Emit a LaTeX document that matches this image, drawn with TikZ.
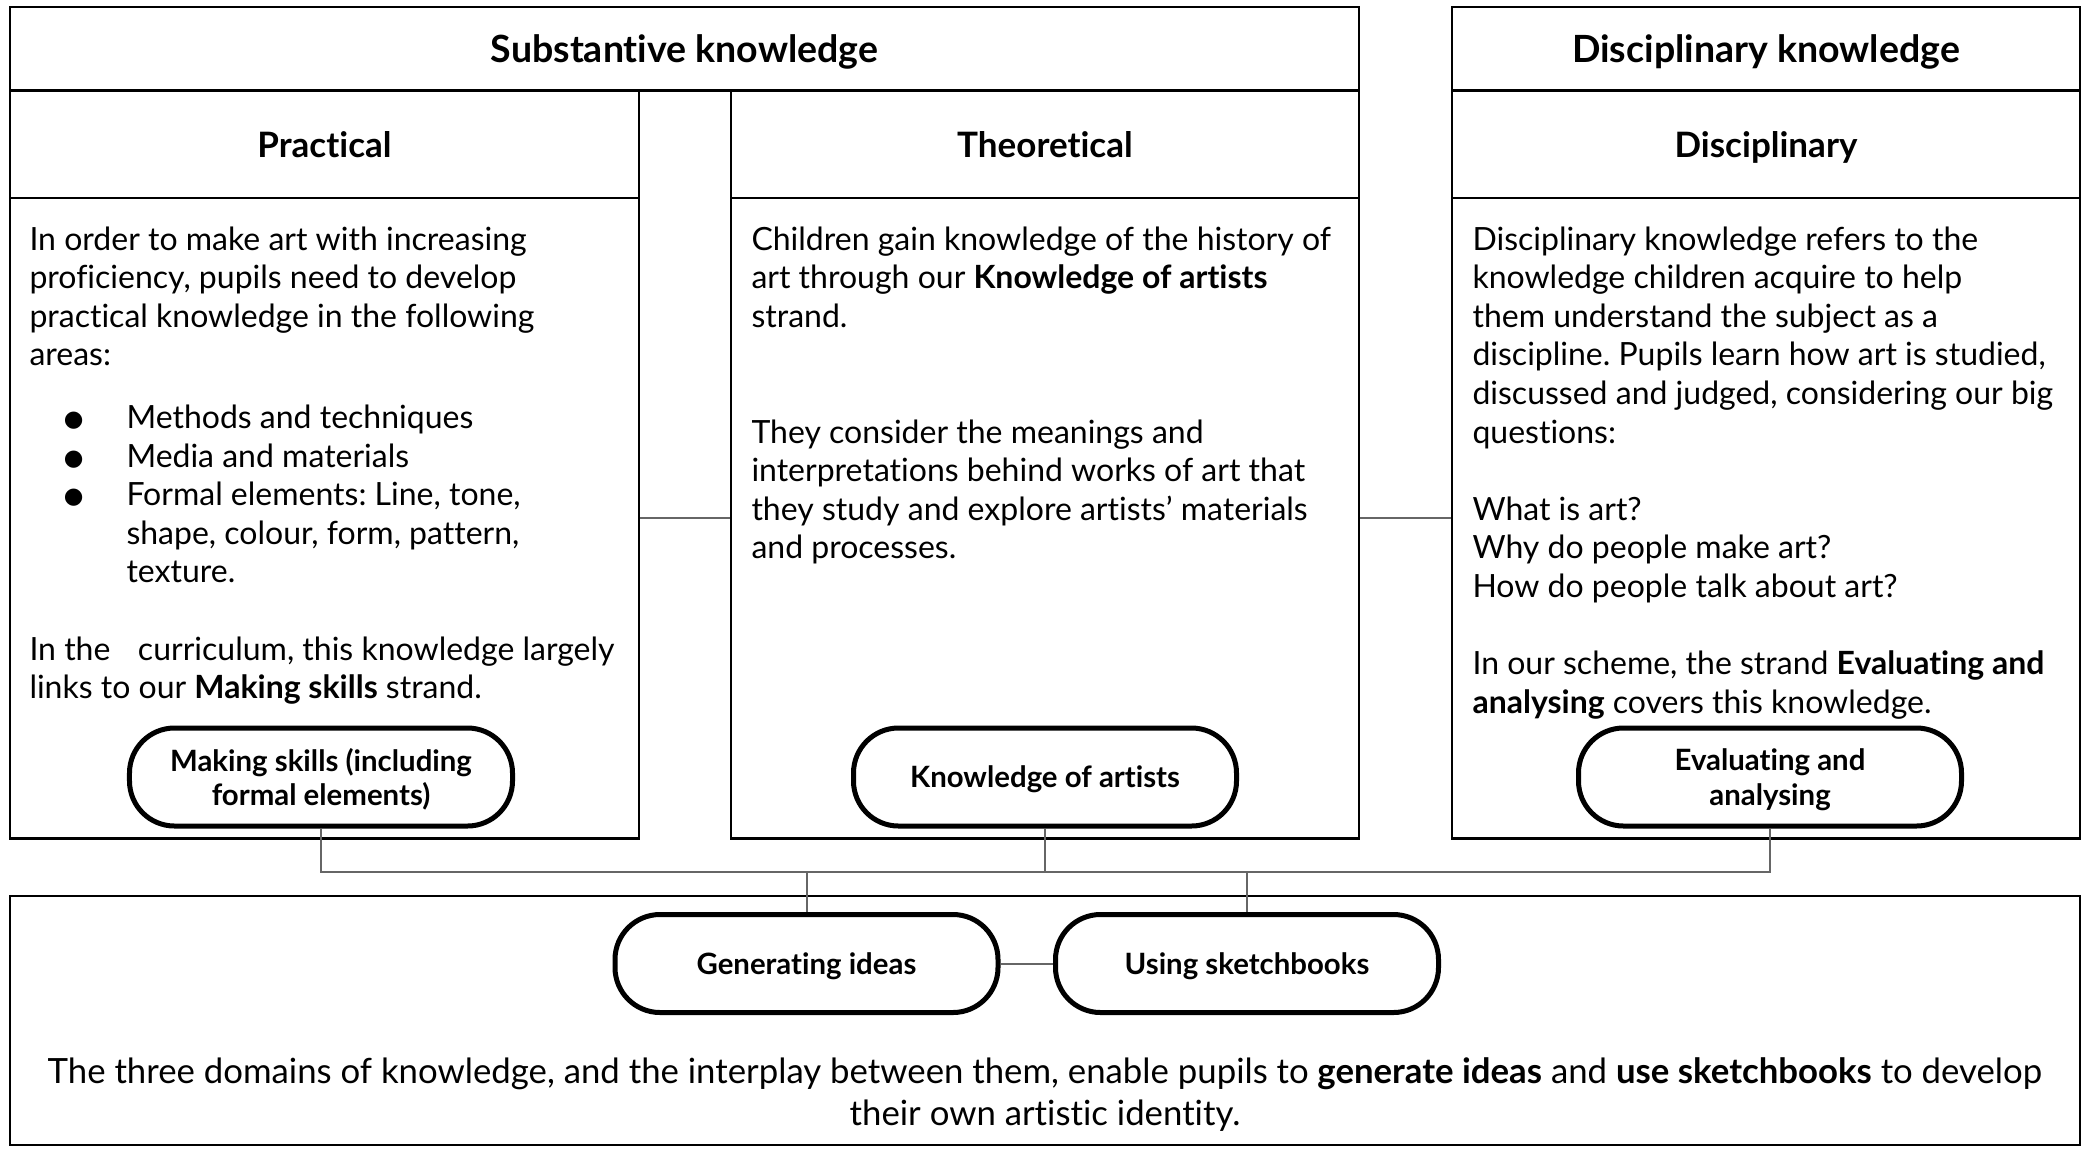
\documentclass[tikz,border=0pt]{standalone}
\usepackage{fontspec}
\setmainfont{Lato}[Ligatures=NoCommon]
\newfontfamily\dejavu{DejaVu Sans}
\usetikzlibrary{positioning}
\frenchspacing

\newcommand{\bul}{\raisebox{0.8pt}{\dejavu\fontsize{9}{9}\selectfont ●}}

\tikzset{
    box/.style={draw, line width=1pt, inner sep=0pt},
    headbox/.style={box, text depth=0pt, font=\fontsize{14}{16}\selectfont\bfseries},
    tophead/.style={headbox, font=\fontsize{15}{17}\selectfont\bfseries},
    pill/.style={draw, line width=2pt, rounded corners=18pt,
        minimum width=153.2pt, minimum height=39.2pt, inner sep=0pt, text depth=0pt,
        align=center, font=\fontsize{11.75}{13.8}\selectfont\bfseries},
    link/.style={draw=black!60, line width=0.8pt},
    bodytext/.style={anchor=base west, inner sep=0pt, font=\fontsize{12.8}{15.44}\selectfont}
}

\begin{document}
\begin{tikzpicture}[x=0.4pt, y=-0.4pt]
    \useasboundingbox (0,0) rectangle (2087,1149);

    % Top headers
    \node[tophead, minimum width=539.6pt, minimum height=33.4pt] (subst) at (684.5,48.75) {Substantive knowledge};
    \node[tophead, minimum width=251.2pt, minimum height=33.4pt] (disc) at (1766,48.75) {Disciplinary knowledge};

    % Column headers
    \node[headbox, minimum width=251.6pt, minimum height=43pt] (prachead) at (324.5,144.25) {Practical};
    \node[headbox, minimum width=251.2pt, minimum height=43pt] (theohead) at (1045,144.25) {Theoretical};
    \node[headbox, minimum width=251.2pt, minimum height=43pt] (dischead) at (1766,144.25) {Disciplinary};

    % Column bodies
    \node[box, minimum width=251.6pt, minimum height=256.2pt] (pracbody) at (324.5,518.25) {};
    \node[box, minimum width=251.2pt, minimum height=256.2pt] (theobody) at (1045,518.25) {};
    \node[box, minimum width=251.2pt, minimum height=256.2pt] (discbody) at (1766,518.25) {};

    % Bottom box
    \node[box, minimum width=828pt, minimum height=99.6pt] (bottom) at (1045,1020.5) {};

    % Body texts
    \node[bodytext] (practext) at (29,250) {\begin{tabular}[t]{@{}l@{}}
        In order to make art with increasing\\
        proficiency, pupils need to develop\\
        practical knowledge in the following\\
        areas:\\[9.6pt]
        \hspace*{13.8pt}\makebox[25pt][l]{\bul}Methods and techniques\\
        \hspace*{13.8pt}\makebox[25pt][l]{\bul}Media and materials\\
        \hspace*{13.8pt}\makebox[25pt][l]{\bul}Formal elements: Line, tone,\\
        \hspace*{38.8pt}shape, colour, form, pattern,\\
        \hspace*{38.8pt}texture.\\[15.44pt]
        In the\hspace{11pt}curriculum, this knowledge largely\\
        links to our \textbf{Making skills} strand.
    \end{tabular}};

    \node[bodytext] (theotext) at (751,250) {\begin{tabular}[t]{@{}l@{}}
        Children gain knowledge of the history of\\
        art through our \textbf{Knowledge of artists}\\
        strand.\\[30.88pt]
        They consider the meanings and\\
        interpretations behind works of art that\\
        they study and explore artists’ materials\\
        and processes.
    \end{tabular}};

    \node[bodytext] (disctext) at (1472,250) {\begin{tabular}[t]{@{}l@{}}
        Disciplinary knowledge refers to the\\
        knowledge children acquire to help\\
        them understand the subject as a\\
        discipline. Pupils learn how art is studied,\\
        discussed and judged, considering our big\\
        questions:\\[15.44pt]
        What is art?\\
        Why do people make art?\\
        How do people talk about art?\\[15.44pt]
        In our scheme, the strand \textbf{Evaluating and}\\
        \textbf{analysing} covers this knowledge.
    \end{tabular}};

    % Strand pills
    \node[pill] (making) at (321,777) {Making skills (including\\formal elements)};
    \node[pill] (artists) at (1045,777) {Knowledge of artists};
    \node[pill] (evaluating) at (1770,777) {Evaluating and\\analysing};
    \node[pill] (ideas) at (806.5,963.5) {Generating ideas};
    \node[pill] (sketch) at (1247,963.5) {Using sketchbooks};

    % Bottom text
    \node[anchor=base, inner sep=0pt, font=\fontsize{13.9}{17}\selectfont] (summary) at (1045,1083) {\begin{tabular}[t]{@{}c@{}}
        The three domains of knowledge, and the interplay between them, enable pupils to \textbf{generate ideas} and \textbf{use sketchbooks} to develop\\
        their own artistic identity.
    \end{tabular}};

    % Connectors
    \coordinate (bus) at (0,872);
    \draw[link] (pracbody.east) -- (theobody.west);
    \draw[link] (theobody.east) -- (discbody.west);
    \draw[link] (making.south) |- (evaluating.south |- bus) -- (evaluating.south);
    \draw[link] (artists.south) -- (artists.south |- bus);
    \draw[link] (ideas.north |- bus) -- (ideas.north);
    \draw[link] (sketch.north |- bus) -- (sketch.north);
    \draw[link] (ideas) -- (sketch);
\end{tikzpicture}
\end{document}
